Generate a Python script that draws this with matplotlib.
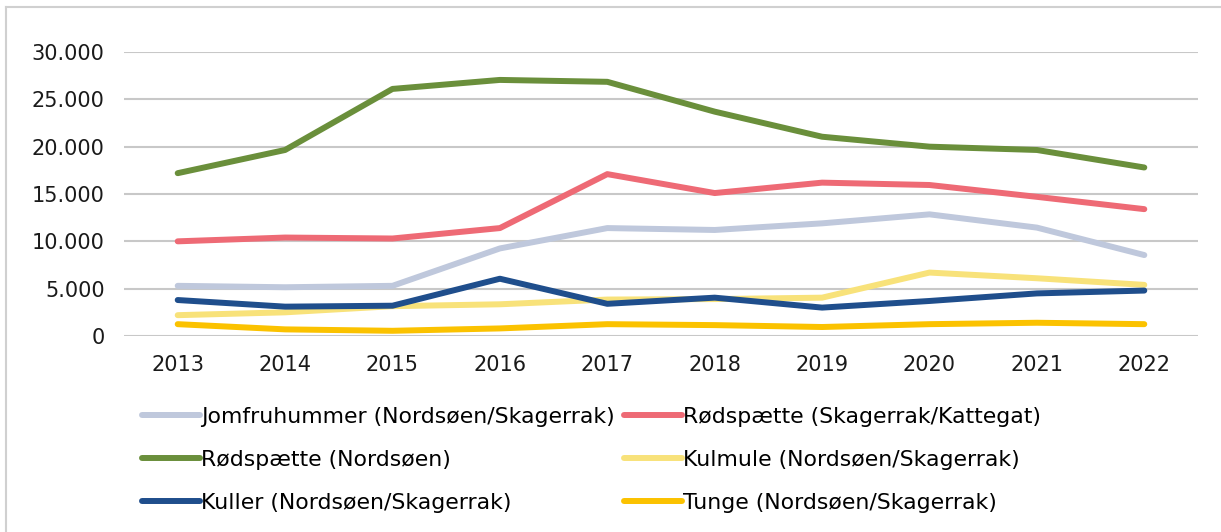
# fangstkvoter - linjediagram 2013-2022
import numpy as np
import matplotlib.pyplot as plt
from matplotlib.ticker import FuncFormatter
from matplotlib.lines import Line2D

years = ['2013', '2014', '2015', '2016', '2017', '2018', '2019', '2020', '2021', '2022']

jomfruhummer = [5300, 5150, 5300, 9250, 11400, 11200, 11900, 12850, 11450, 8550]
roedspaette_sk = [10000, 10400, 10300, 11400, 17100, 15100, 16200, 15950, 14700, 13400]
roedspaette_ns = [17200, 19650, 26100, 27050, 26850, 23700, 21050, 20000, 19650, 17800]
kulmule = [2200, 2500, 3150, 3350, 3850, 3900, 4050, 6700, 6100, 5400]
kuller = [3800, 3100, 3200, 6050, 3400, 4050, 3000, 3700, 4500, 4800]
tunge = [1250, 700, 550, 800, 1250, 1150, 950, 1250, 1400, 1250]

labels = ['Jomfruhummer (Nordsøen/Skagerrak)', 'Rødspætte (Skagerrak/Kattegat)',
          'Rødspætte (Nordsøen)', 'Kulmule (Nordsøen/Skagerrak)',
          'Kuller (Nordsøen/Skagerrak)', 'Tunge (Nordsøen/Skagerrak)']
colors = ['#bfc8dc', '#ee6a75', '#6a8f3b', '#f8e27a', '#1f4e8c', '#fbc200']
series = [jomfruhummer, roedspaette_sk, roedspaette_ns, kulmule, kuller, tunge]

fig = plt.figure(figsize=(12.21, 5.32), dpi=100)
ax = fig.add_axes([124/1221, 1-336/532, 1074/1221, 284/532])

x = np.arange(len(years))
handles = []
for s, c, lab in zip(series, colors, labels):
    h, = ax.plot(x, s, color=c, lw=4.3, solid_capstyle='round', solid_joinstyle='round', label=lab)
    handles.append(h)

ax.set_xlim(-0.5, len(years) - 0.5)
ax.set_ylim(0, 30000)
ax.set_yticks(np.arange(0, 30001, 5000))
ax.yaxis.set_major_formatter(FuncFormatter(lambda v, p: f'{int(v):,}'.replace(',', '.')))
ax.set_xticks(x)
ax.set_xticklabels(years)
ax.grid(axis='y', color='#c8c8c8', lw=1.5)
ax.set_axisbelow(True)
for sp in ax.spines.values():
    sp.set_visible(False)
ax.tick_params(length=0, labelsize=15, colors='#1a1a1a')
ax.tick_params(axis='y', pad=14)
ax.tick_params(axis='x', pad=14)

# legend is row-major in the original, matplotlib fills by column
order = [0, 2, 4, 1, 3, 5]
fig.legend([handles[i] for i in order], [labels[i] for i in order],
           ncol=2, loc='upper left', bbox_to_anchor=(122/1221, 1-387/532),
           frameon=False, fontsize=15.8, handlelength=2.65, handletextpad=0.05,
           columnspacing=0.4, labelspacing=1.05)

# frame around the chart
fig.add_artist(Line2D([6/1221, 6/1221], [0, 1-7/532], color='#d0d0d0', lw=1.5))
fig.add_artist(Line2D([6/1221, 1], [1-7/532, 1-7/532], color='#d0d0d0', lw=1.5))

fig.savefig('out.png', dpi=100)
